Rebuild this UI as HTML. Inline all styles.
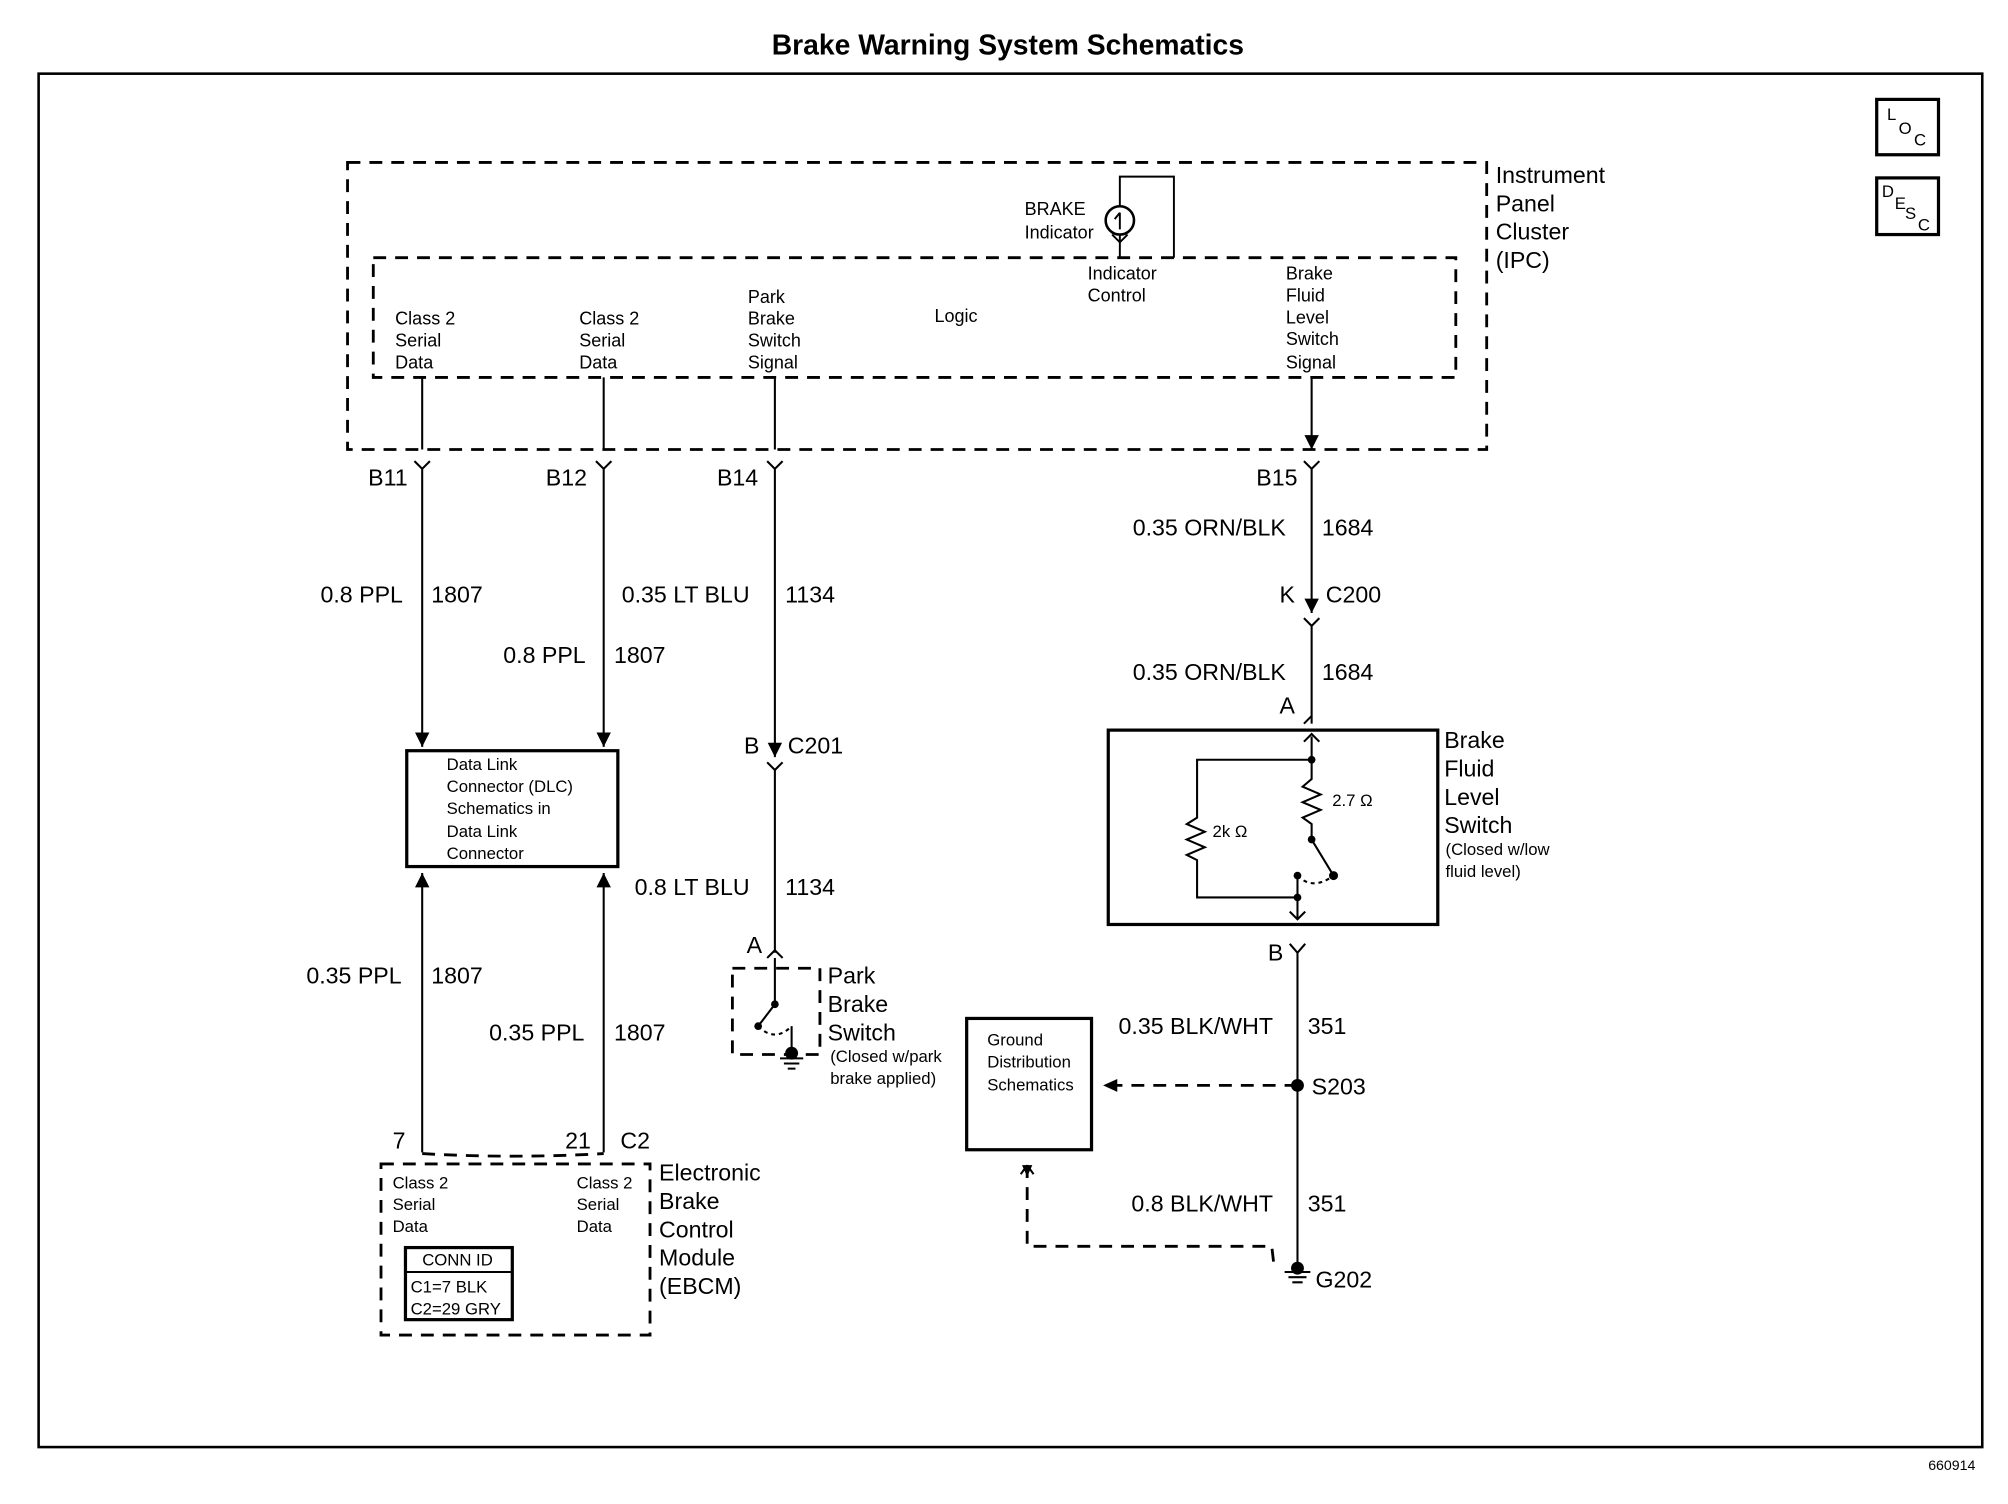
<!DOCTYPE html>
<html><head><style>html,body{margin:0;padding:0;background:#fff}svg{display:block}</style></head><body>
<svg width="2008" height="1504" viewBox="0 0 1560 1168" xmlns="http://www.w3.org/2000/svg" font-family="Liberation Sans, sans-serif" fill="none" stroke="#000">
<defs>
<marker id="ad" viewBox="0 0 10 10" refX="10" refY="5" markerWidth="7" markerHeight="7" orient="auto"><path d="M0,0 L10,5 L0,10 z" fill="#000" stroke="none"/></marker>
</defs>
<text x="783" y="42" font-size="22" font-weight="bold" text-anchor="middle" fill="#000" stroke="none">Brake Warning System Schematics</text>
<rect x="30" y="57" width="1510" height="1067" stroke-width="2"/>
<rect x="1458" y="77" width="48" height="43" stroke-width="2.5"/>
<rect x="1458" y="138" width="48" height="44" stroke-width="2.5"/>
<g fill="#000" stroke="none" font-size="13">
<text x="1466" y="93">L</text><text x="1475" y="104">O</text><text x="1487" y="113">C</text>
<text x="1462" y="153">D</text><text x="1472" y="162">E</text><text x="1480" y="170">S</text><text x="1490" y="179">C</text>
</g>
<g stroke-width="2.2" stroke-dasharray="10,7">
<rect x="270" y="126" width="885" height="223"/>
<rect x="290" y="200" width="841" height="93"/>
<rect x="296" y="904" width="209" height="133"/>
<rect x="569" y="752" width="68" height="67"/>
<path d="M328,896 Q398,900 469,896"/>
<path d="M1008,843 H860"/>
<path d="M798,905 V968 H988 L990,985"/>
</g>
<path d="M870,160 V137 H912 V200" stroke-width="1.5"/>
<circle cx="870" cy="171" r="11" stroke-width="2"/>
<path d="M870,165 V178 M866,170 L870,165 M864,182 L870,188 L876,182 M870,182 V200" stroke-width="1.5"/>
<g fill="#000" stroke="none" font-size="14">
<text x="796" y="167">BRAKE</text><text x="796" y="185">Indicator</text>
<text x="845" y="217">Indicator</text><text x="845" y="234">Control</text>
<text x="999" y="217">Brake</text><text x="999" y="234">Fluid</text><text x="999" y="251">Level</text><text x="999" y="268">Switch</text><text x="999" y="286">Signal</text>
<text x="726" y="250">Logic</text>
<text x="581" y="235">Park</text><text x="581" y="252">Brake</text><text x="581" y="269">Switch</text><text x="581" y="286">Signal</text>
<text x="307" y="252">Class 2</text><text x="307" y="269">Serial</text><text x="307" y="286">Data</text>
<text x="450" y="252">Class 2</text><text x="450" y="269">Serial</text><text x="450" y="286">Data</text>
</g>
<g fill="#000" stroke="none" font-size="18">
<text x="1162" y="142">Instrument</text><text x="1162" y="164">Panel</text><text x="1162" y="186">Cluster</text><text x="1162" y="208">(IPC)</text>
<text x="286" y="377">B11</text><text x="424" y="377">B12</text><text x="557" y="377">B14</text><text x="976" y="377">B15</text>
<text x="249" y="468">0.8 PPL</text><text x="335" y="468">1807</text>
<text x="391" y="515">0.8 PPL</text><text x="477" y="515">1807</text>
<text x="483" y="468">0.35 LT BLU</text><text x="610" y="468">1134</text>
<text x="880" y="416">0.35 ORN/BLK</text><text x="1027" y="416">1684</text>
<text x="994" y="468">K</text><text x="1030" y="468">C200</text>
<text x="880" y="528">0.35 ORN/BLK</text><text x="1027" y="528">1684</text>
<text x="994" y="554">A</text>
<text x="1122" y="581">Brake</text><text x="1122" y="603">Fluid</text><text x="1122" y="625">Level</text><text x="1122" y="647">Switch</text>
<text x="578" y="585">B</text><text x="612" y="585">C201</text>
<text x="493" y="695">0.8 LT BLU</text><text x="610" y="695">1134</text>
<text x="580" y="740">A</text>
<text x="643" y="764">Park</text><text x="643" y="786">Brake</text><text x="643" y="808">Switch</text>
<text x="238" y="764">0.35 PPL</text><text x="335" y="764">1807</text>
<text x="380" y="808">0.35 PPL</text><text x="477" y="808">1807</text>
<text x="985" y="746">B</text>
<text x="869" y="803">0.35 BLK/WHT</text><text x="1016" y="803">351</text>
<text x="1019" y="850">S203</text>
<text x="879" y="941">0.8 BLK/WHT</text><text x="1016" y="941">351</text>
<text x="1022" y="1000">G202</text>
<text x="305" y="892">7</text><text x="439" y="892">21</text><text x="482" y="892">C2</text>
<text x="512" y="917">Electronic</text><text x="512" y="939">Brake</text><text x="512" y="961">Control</text><text x="512" y="983">Module</text><text x="512" y="1005">(EBCM)</text>
</g>
<g fill="#000" stroke="none" font-size="13">
<text x="1123" y="664">(Closed w/low</text><text x="1123" y="681">fluid level)</text>
<text x="645" y="825">(Closed w/park</text><text x="645" y="842">brake applied)</text>
<text x="1035" y="626">2.7 Ω</text><text x="942" y="650">2k Ω</text>
<text x="347" y="598">Data Link</text><text x="347" y="615">Connector (DLC)</text><text x="347" y="632">Schematics in</text><text x="347" y="650">Data Link</text><text x="347" y="667">Connector</text>
<text x="767" y="812">Ground</text><text x="767" y="829">Distribution</text><text x="767" y="847">Schematics</text>
<text x="305" y="923">Class 2</text><text x="305" y="940">Serial</text><text x="305" y="957">Data</text>
<text x="448" y="923">Class 2</text><text x="448" y="940">Serial</text><text x="448" y="957">Data</text>
<text x="328" y="983">CONN ID</text><text x="319" y="1004">C1=7 BLK</text><text x="319" y="1021">C2=29 GRY</text>
<text x="1498" y="1142" font-size="11">660914</text>
</g>
<rect x="316" y="583" width="164" height="90" stroke-width="2.5"/>
<rect x="751" y="791" width="97" height="102" stroke-width="2.5"/>
<rect x="861" y="567" width="256" height="151" stroke-width="2.5"/>
<rect x="315" y="969" width="83" height="56" stroke-width="2.5"/>
<path d="M315,988 H398" stroke-width="1.5"/>
<g stroke-width="1.6">
<!-- wires -->
<path d="M328,293 V349 M469,293 V349 M602,293 V349 M1019,293 V349" marker-end="url(#ad)"/>
<path d="M322,358 L328,364 L334,358 M328,364 V580" marker-end="url(#ad)"/>
<path d="M463,358 L469,364 L475,358 M469,364 V580" marker-end="url(#ad)"/>
<path d="M596,358 L602,364 L608,358 M602,364 V588" marker-end="url(#ad)"/>
<path d="M596,592 L602,598 L608,592 M602,598 V740"/>
<path d="M1013,358 L1019,364 L1025,358 M1019,364 V476" marker-end="url(#ad)"/>
<path d="M1013,480 L1019,486 L1025,480 M1019,486 V562"/>
<path d="M1013,562 L1019,556"/>
<path d="M328,895 V678" marker-end="url(#ad)"/>
<path d="M469,895 V678" marker-end="url(#ad)"/>
<path d="M596,744 L602,738 L608,744 M602,744 V780 L589,797"/>
<path d="M615,797 V818"/>
<!-- fluid switch internal -->
<path d="M1019,572 V590 H930 V635 L922,640 L936,646 L922,652 L936,658 L922,664 L930,668 V697 H1008"/>
<path d="M1013,576 L1019,570 L1025,576"/>
<path d="M1019,590 V605 L1012,611 L1026,617 L1012,623 L1026,629 L1012,635 L1019,640 V652 L1036,680" />
<path d="M1008,680 V713 M1002,708 L1008,714 L1014,708"/>
<path d="M1002,733 L1008,740 L1014,733 M1008,740 V985"/>
<path d="M1008,680 Q1020,692 1036,680" stroke-dasharray="3,3"/>
<path d="M589,797 Q602,810 615,797" stroke-dasharray="3,3"/>
<path d="M798,905 L793,912 M798,905 L803,912"/>
<path d="M998,988 H1018 M1001,992 H1015 M1004,996 H1012"/>
<path d="M606,822 H624 M609,826 H621 M612,830 H618"/>
</g>
<g fill="#000" stroke="none">
<circle cx="1019" cy="590" r="3"/><circle cx="1019" cy="652" r="3"/><circle cx="1036" cy="680" r="3.5"/><circle cx="1008" cy="680" r="3"/><circle cx="1008" cy="697" r="3"/>
<circle cx="1008" cy="843" r="5"/><circle cx="589" cy="797" r="3"/><circle cx="602" cy="780" r="3"/>
<circle cx="615" cy="818" r="5"/><circle cx="1008" cy="985" r="5"/>
<path d="M857,843 L868,838 L868,848 z"/>
<path d="M794,905 L802,905 L798,914 z"/>
</g>
</svg>
</body></html>
